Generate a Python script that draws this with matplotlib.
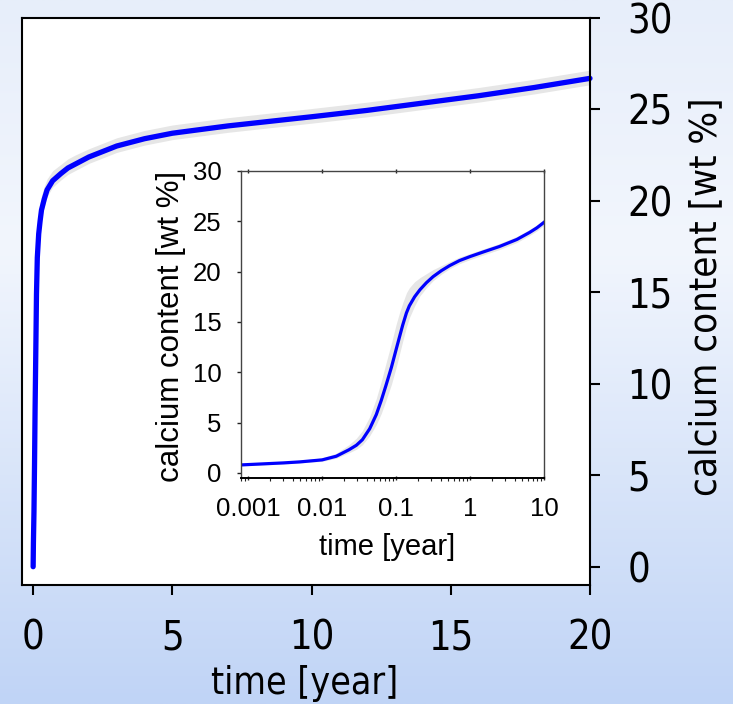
import numpy as np
import matplotlib
matplotlib.use("Agg")
import matplotlib.pyplot as plt
from matplotlib.colors import LinearSegmentedColormap
from matplotlib.ticker import LogLocator, FixedLocator, NullFormatter

# main panel: calcium content vs. time (linear time axis)
main_t = [0, 0.01, 0.03, 0.05, 0.07, 0.1, 0.12, 0.15, 0.2, 0.25, 0.3, 0.4,
          0.5, 0.7, 1, 1.25, 1.5, 2, 2.5, 3, 4, 5, 7, 10, 12, 14, 16, 18, 20]
main_ca = [0, 1.3, 3.0, 5.6, 8.6, 12.3, 14.9, 16.9, 18.2, 18.9, 19.5, 20.1,
           20.6, 21.1, 21.5, 21.8, 22.0, 22.4, 22.7, 23.0, 23.4, 23.7, 24.1,
           24.6, 24.95, 25.35, 25.75, 26.2, 26.7]
main_up = [0.1, 0.3, 0.7, 1.4, 2.0, 2.3, 2.1, 1.8, 1.2, 1.0, 0.8, 0.7, 0.6,
           0.55, 0.5, 0.5, 0.5, 0.45, 0.45, 0.45, 0.45, 0.45, 0.45, 0.45,
           0.45, 0.45, 0.45, 0.45, 0.45]
main_dn = [0.1, 0.2, 0.5, 1.0, 1.4, 1.6, 1.4, 1.2, 0.6, 0.5, 0.4, 0.4, 0.35,
           0.35, 0.35, 0.35, 0.35, 0.35, 0.35, 0.35, 0.35, 0.35, 0.35, 0.35,
           0.35, 0.35, 0.35, 0.35, 0.35]

# inset: same curve on a log time axis
inset_t = [0.0008, 0.003, 0.005, 0.01, 0.0155, 0.023, 0.029, 0.035, 0.044,
           0.054, 0.063, 0.073, 0.0865, 0.1, 0.112, 0.123, 0.138, 0.151,
           0.178, 0.21, 0.257, 0.316, 0.41, 0.53, 0.72, 1, 1.5, 2.5, 4.3,
           6.4, 8, 10]
inset_ca = [0.8, 1.0, 1.1, 1.3, 1.66, 2.3, 2.75, 3.3, 4.4, 5.8, 7.2, 8.7,
            10.5, 12.25, 13.6, 14.7, 15.9, 16.6, 17.5, 18.2, 18.9, 19.5,
            20.1, 20.6, 21.1, 21.5, 21.95, 22.5, 23.2, 23.9, 24.35, 24.9]
inset_up = [0.1, 0.1, 0.15, 0.2, 0.3, 0.5, 0.7, 0.9, 1.2, 1.6, 1.9, 2.2,
            2.4, 2.5, 2.4, 2.2, 2.0, 1.8, 1.5, 1.2, 0.9, 0.7, 0.5, 0.4, 0.35,
            0.3, 0.3, 0.3, 0.3, 0.3, 0.3, 0.3]
inset_dn = [0.1, 0.1, 0.1, 0.15, 0.2, 0.3, 0.4, 0.5, 0.7, 1.0, 1.3, 1.5,
            1.7, 1.8, 1.7, 1.6, 1.4, 1.2, 0.9, 0.6, 0.5, 0.4, 0.35, 0.3, 0.3,
            0.3, 0.3, 0.3, 0.3, 0.3, 0.3, 0.3]

main_xticks = [0, 5, 10, 15, 20]
main_yticks = [0, 5, 10, 15, 20, 25, 30]
inset_xticks = [0.001, 0.01, 0.1, 1, 10]
inset_xticklabels = ["0.001", "0.01", "0.1", "1", "10"]
inset_yticks = [0, 5, 10, 15, 20, 25, 30]

label_txt = "calcium content [wt %]"
time_txt = "time [year]"

BLUE = "#0000ff"
BAND = "#e6e6e6"
MAIN_FONT = dict(family="DejaVu Sans", stretch="condensed")
INSET_FONT = dict(family="Liberation Sans")

fig = plt.figure(figsize=(7.33, 7.04), dpi=100)

# slide-like background gradient
bg = fig.add_axes([0, 0, 1, 1], zorder=-10)
cmap = LinearSegmentedColormap.from_list(
    "bg", [(0.0, "#e7eefa"), (0.35, "#f2f6fd"), (1.0, "#c0d4f6")])
bg.imshow(np.linspace(0, 1, 256).reshape(-1, 1), aspect="auto", cmap=cmap,
          extent=[0, 1, 0, 1], origin="upper")
bg.set_axis_off()

# ---- main axes ----
ax = fig.add_axes([22 / 733, 1 - 585 / 704, (590 - 22) / 733, (585 - 18) / 704])
mt = np.array(main_t)
mc = np.array(main_ca)
ax.fill_between(mt, mc - np.array(main_dn), mc + np.array(main_up),
                color=BAND, lw=0, zorder=1)
ax.plot(mt, mc, color=BLUE, lw=3.8, solid_capstyle="round",
        solid_joinstyle="round", zorder=2, clip_on=False)
ax.set_xlim(-0.4, 20)
ax.set_ylim(-1, 30)
ax.set_xticks(main_xticks)
ax.set_yticks(main_yticks)
ax.yaxis.tick_right()
ax.tick_params(axis="both", direction="out", length=7, width=1.5,
               colors="black")
ax.tick_params(axis="x", pad=17)
ax.tick_params(axis="y", pad=20)
for s in ax.spines.values():
    s.set_linewidth(1.5)
for lab in ax.get_xticklabels() + ax.get_yticklabels():
    lab.set_fontproperties(dict(size=28.5, **MAIN_FONT))
ax.set_xlabel(time_txt, fontsize=26.8, va="center", **MAIN_FONT)
ax.xaxis.set_label_coords(0.498, -0.173)
ax.yaxis.set_label_position("right")
ax.set_ylabel(label_txt, fontsize=27.5, va="center", rotation=90, **MAIN_FONT)
ax.yaxis.set_label_coords(1.205, 0.508)

# ---- inset axes ----
ins = fig.add_axes([241 / 733, 1 - 478 / 704, (544 - 241) / 733,
                    (478 - 171) / 704])
it = np.array(inset_t)
ic = np.array(inset_ca)
ins.fill_between(it, ic - np.array(inset_dn), ic + np.array(inset_up),
                 color=BAND, lw=0, zorder=1)
ins.plot(it, ic, color=BLUE, lw=2.3, solid_joinstyle="round", zorder=2)
ins.set_xscale("log")
ins.set_xlim(0.0008, 10)
ins.set_ylim(-0.5, 30)
ins.xaxis.set_major_locator(FixedLocator(inset_xticks))
ins.set_xticklabels(inset_xticklabels)
ins.xaxis.set_minor_locator(LogLocator(base=10, subs=np.arange(2, 10)))
ins.xaxis.set_minor_formatter(NullFormatter())
ins.set_yticks(inset_yticks)
ins.tick_params(axis="both", which="major", direction="out", length=3,
                width=1, colors="#222222", labelcolor="black")
ins.tick_params(axis="x", which="minor", direction="out", length=2,
                width=0.8, colors="#222222")
ins.tick_params(axis="x", which="major", pad=12)
ins.tick_params(axis="y", which="major", pad=11)
for name, s in ins.spines.items():
    s.set_linewidth(1.0)
    s.set_color("#444444")
ins.spines["bottom"].set_color("black")
ins.spines["bottom"].set_linewidth(1.4)
ins.tick_params(axis="x", which="major", top=True, direction="inout")
for lab in ins.get_xticklabels() + ins.get_yticklabels():
    lab.set_fontproperties(dict(size=18.5, **INSET_FONT))
ins.set_xlabel(time_txt, fontsize=21, va="center", **INSET_FONT)
ins.xaxis.set_label_coords(0.483, -0.225)
ins.set_ylabel(label_txt, fontsize=22.5, va="center", **INSET_FONT)
ins.yaxis.set_label_coords(-0.231, 0.495)

fig.savefig("out.png", dpi=100)
